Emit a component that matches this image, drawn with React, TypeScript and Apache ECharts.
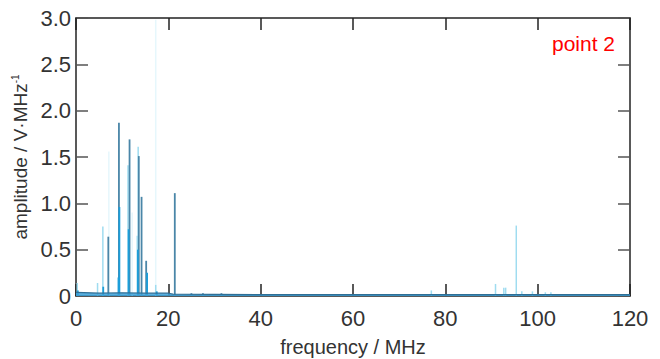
import React, { useEffect, useRef } from "react";
import * as echarts from "echarts";

const xTicks = [0, 20, 40, 60, 80, 100, 120];
const yTicks = [0, 0.5, 1.0, 1.5, 2.0, 2.5, 3.0];

// [frequency MHz, amplitude V/MHz]
const darkPeaks: number[][] = [
  [7.0, 0.64], [9.3, 1.87], [11.6, 1.69], [13.6, 1.51], [14.2, 1.07],
  [15.2, 0.38], [21.4, 1.11], [25.0, 0.03], [27.5, 0.03], [31.5, 0.03],
];
const mediumPeaks: number[][] = [
  [0.4, 0.06], [5.9, 0.1], [9.2, 0.2], [9.4, 0.96], [11.4, 0.72], [13.4, 0.5],
  [15.4, 0.25], [17.5, 0.05],
];
const lightPeaks: number[][] = [
  [0.3, 0.14], [4.7, 0.14], [5.85, 0.75], [11.3, 1.41], [13.5, 1.61],
  [13.3, 0.65], [17.3, 0.12], [77.0, 0.06], [90.9, 0.13], [92.7, 0.09],
  [93.1, 0.09], [95.4, 0.76], [96.6, 0.05], [98.9, 0.05], [101.7, 0.04],
  [102.9, 0.04],
];
const palePeaks: number[][] = [
  [7.15, 1.56], [17.3, 2.98], [12.2, 0.9],
];
const noiseFloor: number[][] = [
  [0, 0.04], [5, 0.03], [10, 0.035], [15, 0.03], [20, 0.03], [21, 0.02],
  [40, 0.015], [60, 0.015], [80, 0.015], [100, 0.015], [120, 0.015],
];

const FONT = "'Liberation Sans', Arial, sans-serif";

export default function App() {
  const ref = useRef<HTMLDivElement>(null);
  useEffect(() => {
    const chart = echarts.init(ref.current!, null, { renderer: "svg" });
    const barSeries = (name: string, data: number[][], color: string, w: number) => ({
      name,
      type: "bar",
      data,
      barWidth: w,
      barGap: "-100%",
      itemStyle: { color },
      silent: true,
    });
    chart.setOption({
      animation: false,
      grid: { left: 76, right: 30, top: 18, bottom: 63, outerBoundsMode: "none" },
      xAxis: [
        {
          type: "value",
          min: 0,
          max: 120,
          interval: 20,
          axisLine: { show: true, onZero: false, lineStyle: { color: "#222", width: 1.5 } },
          axisTick: { show: true, inside: true, length: 12, lineStyle: { color: "#222", width: 1.5 } },
          axisLabel: {
            color: "#333",
            fontFamily: FONT,
            fontSize: 22,
            margin: 11,
            formatter: (v: number) => (xTicks.includes(v) ? String(v) : ""),
          },
          splitLine: { show: false },
          name: "frequency / MHz",
          nameLocation: "middle",
          nameGap: 41,
          nameTextStyle: { color: "#333", fontFamily: FONT, fontSize: 20 },
        },
        {
          type: "value",
          position: "top",
          min: 0,
          max: 120,
          interval: 20,
          axisLine: { show: true, onZero: false, lineStyle: { color: "#222", width: 1.5 } },
          axisTick: { show: true, inside: true, length: 12, lineStyle: { color: "#222", width: 1.5 } },
          axisLabel: { show: false },
          splitLine: { show: false },
        },
      ],
      yAxis: [
        {
          type: "value",
          min: 0,
          max: 3,
          interval: 0.5,
          axisLine: { show: true, onZero: false, lineStyle: { color: "#222", width: 1.5 } },
          axisTick: { show: true, inside: true, length: 12, lineStyle: { color: "#555", width: 1.5 } },
          axisLabel: {
            color: "#333",
            fontFamily: FONT,
            fontSize: 22,
            margin: 5,
            formatter: (v: number) => {
              const t = yTicks.find((k) => Math.abs(k - v) < 1e-6);
              if (t === undefined) return "";
              return t === 0 ? "0" : t.toFixed(1);
            },
          },
          splitLine: { show: false },
          name: "amplitude / V·MHz{sup|-1}",
          nameLocation: "middle",
          nameGap: 45,
          nameTextStyle: {
            color: "#333",
            fontFamily: FONT,
            fontSize: 19,
            rich: {
              sup: { fontSize: 10, verticalAlign: "top", color: "#333", fontFamily: FONT, padding: [0, 0, 10, 0] },
            },
          },
        },
        {
          type: "value",
          position: "right",
          min: 0,
          max: 3,
          interval: 0.5,
          axisLine: { show: true, onZero: false, lineStyle: { color: "#222", width: 1.5 } },
          axisTick: { show: true, inside: true, length: 12, lineStyle: { color: "#555", width: 1.5 } },
          axisLabel: { show: false },
          splitLine: { show: false },
        },
      ],
      series: [
        {
          name: "noise",
          type: "line",
          data: noiseFloor,
          symbol: "none",
          lineStyle: { color: "#2f6f96", width: 1.2 },
          areaStyle: { color: "#3aa0d8", opacity: 0.85 },
          silent: true,
        },
        barSeries("pale", palePeaks, "#e6f7fc", 1.5),
        barSeries("light", lightPeaks, "#9fdcf0", 1.5),
        barSeries("dark", darkPeaks, "#4a86a8", 1.8),
        barSeries("medium", mediumPeaks, "#1c9ed9", 1.8),
      ],
      graphic: [
        {
          type: "text",
          left: 552,
          top: 33,
          style: { text: "point 2", fill: "#ff0000", fontFamily: FONT, fontSize: 21 },
        },
      ],
    });
    return () => chart.dispose();
  }, []);
  return (
    <div
      ref={ref}
      style={{ position: "absolute", left: 0, top: 0, width: 660, height: 359 }}
    />
  );
}
